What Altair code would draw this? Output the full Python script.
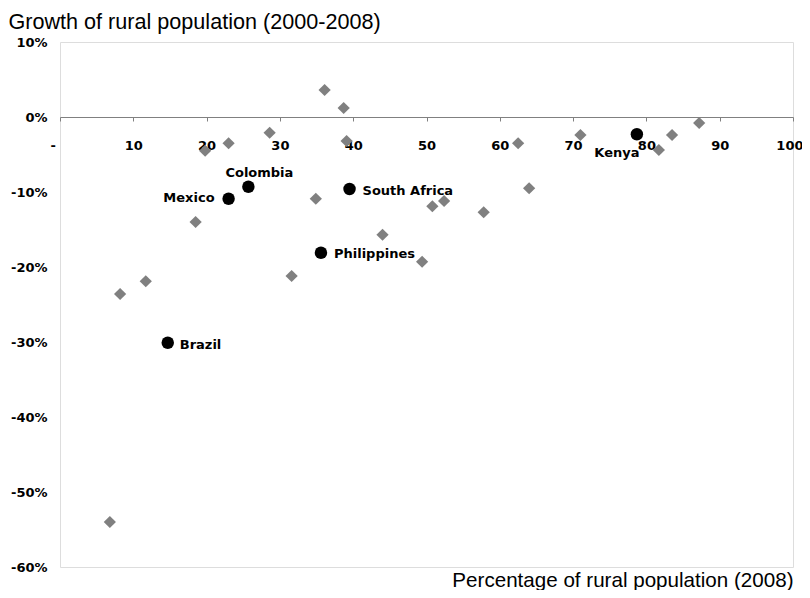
import altair as alt
import pandas as pd

# Other countries (grey diamonds): % rural population 2008, growth of rural pop 2000-2008 (%)
other_x = [6.8, 8.2, 11.7, 18.5, 19.8, 23.0, 28.6, 31.6, 34.9, 36.1, 38.7, 39.1,
           44.0, 49.4, 50.8, 52.4, 57.8, 62.5, 64.0, 71.0, 81.7, 83.5, 87.2]
other_y = [-54.0, -23.6, -21.9, -14.0, -4.5, -3.5, -2.1, -21.2, -10.9, 3.6, 1.2, -3.2,
           -15.7, -19.3, -11.9, -11.2, -12.7, -3.5, -9.5, -2.4, -4.4, -2.4, -0.8]

# Highlighted countries (black circles)
countries = ["Brazil", "Mexico", "Colombia", "Philippines", "South Africa", "Kenya"]
hl_x = [14.7, 23.0, 25.7, 35.6, 39.5, 78.7]
hl_y = [-30.1, -10.9, -9.3, -18.1, -9.6, -2.3]

x_ticks = [0, 10, 20, 30, 40, 50, 60, 70, 80, 90, 100]
y_ticks = [10, 0, -10, -20, -30, -40, -50, -60]

others = pd.DataFrame({"rural": other_x, "growth": other_y})
hl = pd.DataFrame({"country": countries, "rural": hl_x, "growth": hl_y})

LABEL_FONT = "DejaVu Sans"
GREY = "#808080"

xscale = alt.Scale(domain=[0, 100], nice=False, zero=False)
yscale = alt.Scale(domain=[-60, 10], nice=False, zero=False)

x_enc = alt.X(
    "rural:Q", scale=xscale,
    axis=alt.Axis(
        values=x_ticks, offset=-450, grid=False,
        domainColor=GREY, domainWidth=1.2, tickColor=GREY, tickSize=4,
        labelFont=LABEL_FONT, labelFontSize=13, labelFontWeight="bold", labelColor="black",
        labelPadding=18, labelFlush=True, labelFlushOffset=10, labelOverlap=False,
        labelExpr="datum.value == 0 ? '-' : datum.label",
        title="Percentage of rural population (2008)",
        titleFont="Liberation Sans", titleFontSize=20.6, titleFontWeight="normal",
        titleColor="black", titleX=733, titleY=469, titleAlign="right",
        titleBaseline="alphabetic", titleAngle=0,
    ),
)
y_enc = alt.Y(
    "growth:Q", scale=yscale,
    axis=alt.Axis(
        values=y_ticks, grid=False, domain=False, ticks=False,
        labelFont=LABEL_FONT, labelFontSize=13, labelFontWeight="bold", labelColor="black",
        labelPadding=13, labelExpr="datum.value + '%'",
        title="Growth of rural population (2000-2008)",
        titleFont="Liberation Sans", titleFontSize=21.6, titleFontWeight="normal",
        titleColor="black", titleAngle=0, titleX=-52, titleY=-14,
        titleAlign="left", titleBaseline="alphabetic",
    ),
)

diamonds = alt.Chart(others).mark_point(
    shape="diamond", filled=True, size=150, color=GREY, opacity=1
).encode(x=x_enc, y=y_enc)

circles = alt.Chart(hl).mark_point(
    shape="circle", filled=True, size=155, color="black", opacity=1
).encode(x="rural:Q", y="growth:Q")


def label(name, dx, dy, align):
    return alt.Chart(hl).transform_filter(
        alt.datum.country == name
    ).mark_text(
        font=LABEL_FONT, fontSize=13, fontWeight="bold", color="black",
        align=align, baseline="middle", dx=dx, dy=dy
    ).encode(x="rural:Q", y="growth:Q", text="country:N")


labels = [
    label("Brazil", 12, 2, "left"),
    label("Mexico", -14, -1, "right"),
    label("Colombia", 11, -14, "center"),
    label("Philippines", 13, 1, "left"),
    label("South Africa", 13, 2, "left"),
    label("Kenya", -20, 19, "center"),
]

chart = alt.layer(diamonds, circles, *labels).properties(
    width=733, height=525,
    autosize=alt.AutoSizeParams(type="none"),
    padding={"left": 52, "top": 34, "right": 9, "bottom": 23},
).configure_view(
    stroke=GREY, strokeWidth=1.3
).configure(background="white")

chart.save("out.html", embed_options={"renderer": "svg", "actions": False})
